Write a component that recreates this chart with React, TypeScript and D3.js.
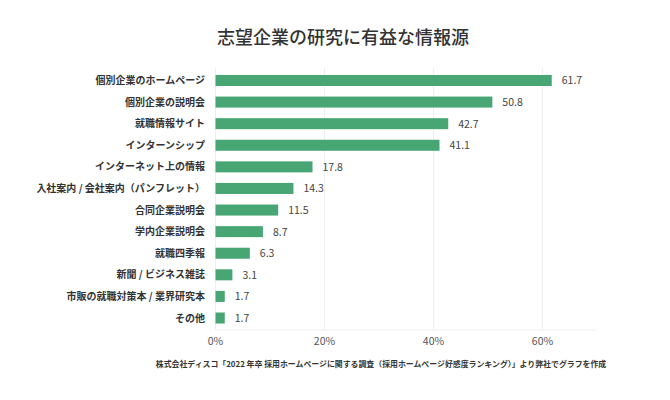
import React from "react";
import * as d3 from "d3";

const categories = [
  "個別企業のホームページ",
  "個別企業の説明会",
  "就職情報サイト",
  "インターンシップ",
  "インターネット上の情報",
  "入社案内 / 会社案内（パンフレット）",
  "合同企業説明会",
  "学内企業説明会",
  "就職四季報",
  "新聞 / ビジネス雑誌",
  "市販の就職対策本 / 業界研究本",
  "その他",
];
const values = [61.7, 50.8, 42.7, 41.1, 17.8, 14.3, 11.5, 8.7, 6.3, 3.1, 1.7, 1.7];
const xTicks = [0, 20, 40, 60];
const title = "志望企業の研究に有益な情報源";
const note =
  "株式会社ディスコ「2022 年卒 採用ホームページに関する調査（採用ホームページ好感度ランキング）」より弊社でグラフを作成";

const W = 670;
const H = 400;
const FONT = "'Noto Sans CJK JP', 'Noto Sans', sans-serif";

export default function App() {
  const x = d3.scaleLinear().domain([0, 70]).range([215.5, 597]);
  const y = d3
    .scaleBand<string>()
    .domain(categories)
    .range([68.5, 330])
    .paddingInner(0.49)
    .paddingOuter(0.3);

  return (
    <svg
      width={W}
      height={H}
      style={{ position: "absolute", left: 0, top: 0, background: "#fff" }}
      fontFamily={FONT}
    >
      <text
        x={343}
        y={44}
        textAnchor="middle"
        fontSize={18}
        fontWeight={500}
        fill="#333"
      >
        {title}
      </text>

      {xTicks.map((t) => (
        <g key={t}>
          <line
            x1={x(t)}
            x2={x(t)}
            y1={68}
            y2={330}
            stroke="#eeeeee"
            strokeWidth={1}
          />
          <text
            x={x(t)}
            y={344.5}
            textAnchor="middle"
            fontSize={10.5}
            fill="#555"
          >
            {`${t}%`}
          </text>
        </g>
      ))}
      <line x1={x(0)} x2={x(70)} y1={330} y2={330} stroke="#eeeeee" />

      {categories.map((c, i) => {
        const yy = y(c)!;
        const bw = y.bandwidth();
        return (
          <g key={c}>
            <text
              x={205}
              y={yy + bw / 2}
              dy="0.35em"
              textAnchor="end"
              fontSize={10}
              fontWeight={600}
              fill="#333"
            >
              {c}
            </text>
            <rect
              x={x(0)}
              y={yy}
              width={x(values[i]) - x(0)}
              height={bw}
              fill="#47a673"
            />
            <text
              x={x(values[i]) + 10}
              y={yy + bw / 2}
              dy="0.38em"
              fontSize={10.5}
              fill="#444"
            >
              {values[i].toFixed(1)}
            </text>
          </g>
        );
      })}

      <text
        x={381}
        y={367}
        textAnchor="middle"
        fontSize={7.9}
        fontWeight={700}
        fill="#333"
      >
        {note}
      </text>
    </svg>
  );
}
